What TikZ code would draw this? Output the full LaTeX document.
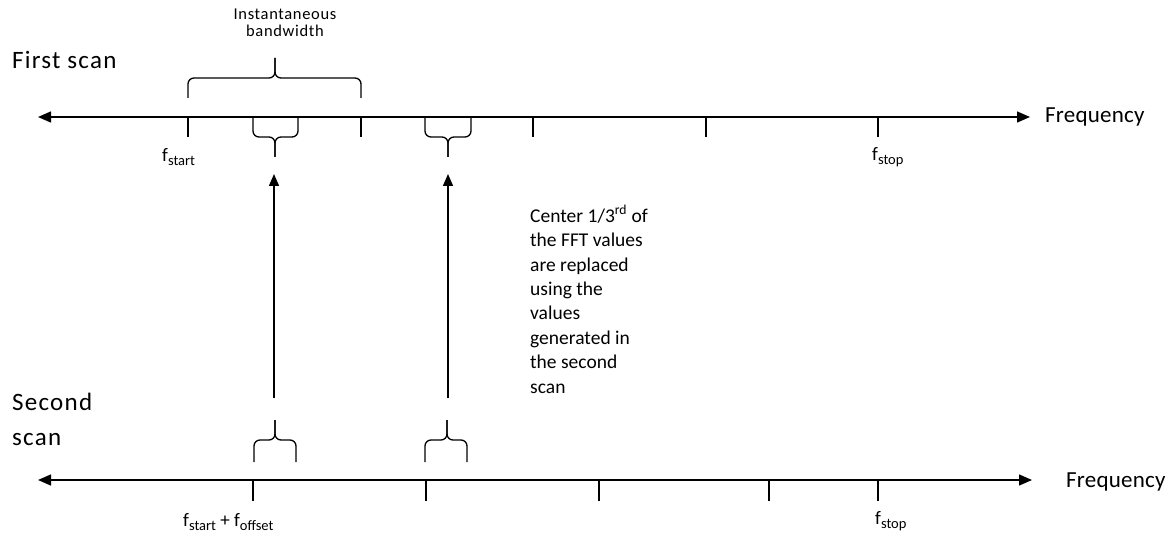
\documentclass[tikz,border=0pt]{standalone}
\usepackage{fontspec}
\setmainfont{Carlito}
\usetikzlibrary{arrows.meta}
\newcommand{\fsub}[2]{#1\raisebox{-0.22em}{\fontsize{14.5}{14.5}\selectfont #2}}
\begin{document}
\begin{tikzpicture}[x=1pt,y=-1pt,
  axis/.style={line width=1.4pt,{Triangle[length=13pt,width=11pt]}-{Triangle[length=13pt,width=11pt]}},
  tick/.style={line width=1.3pt},
  brace/.style={line width=1.3pt,rounded corners=6pt},
  uparrow/.style={line width=1.4pt,-{Triangle[length=12pt,width=10pt]}},
  lbl/.style={inner sep=0pt,font=\fontsize{25}{35}\selectfont\addfontfeatures{LetterSpace=5},align=left},
  freq/.style={inner sep=0pt,anchor=west,font=\fontsize{23}{26}\selectfont\addfontfeatures{LetterSpace=1}},
  flbl/.style={inner sep=0pt,font=\fontsize{19}{22}\selectfont}]
\useasboundingbox (0,0) rectangle (1174,537);
% axes
\coordinate (t0) at (38,117); \coordinate (t1) at (1030,117);
\coordinate (b0) at (38,480); \coordinate (b1) at (1032,480);
\draw[axis] (t0) -- (t1);
\draw[axis] (b0) -- (b1);
% ticks top
\foreach \x in {188,361,533,706,878} \draw[tick] (\x,117) -- (\x,137);
% ticks bottom
\foreach \x in {253,426,599,769,878} \draw[tick] (\x,480) -- (\x,501);
% top brace (instantaneous bandwidth)
\draw[brace] (188,98) |- (275,78) -- (275,58);
\draw[brace] (361,98) |- (275,78) -- (275,58);
% braces under top axis
\foreach \a/\b/\c in {253/298/275,425/471/448}{
  \draw[brace] (\a,117) |- (\c,137) -- (\c,157);
  \draw[brace] (\b,117) |- (\c,137) -- (\c,157);
}
% braces above bottom axis
\foreach \a/\b/\c in {254/296/275,425/467/447}{
  \draw[brace] (\a,462) |- (\c,440) -- (\c,420);
  \draw[brace] (\b,462) |- (\c,440) -- (\c,420);
}
% arrows
\coordinate (a1s) at (274,398); \coordinate (a1e) at (274,174);
\coordinate (a2s) at (448,398); \coordinate (a2e) at (448,174);
\draw[uparrow] (a1s) -- (a1e);
\draw[uparrow] (a2s) -- (a2e);
% labels
\node[lbl,anchor=west] (first) at (12,60) {First scan};
\node[lbl,anchor=north west] (second) at (12,393) {Second\\scan};
\node[freq] (fq1) at (1045,117) {Frequency};
\node[freq] (fq2) at (1066,482) {Frequency};
\node[inner sep=0pt,align=center,font=\fontsize{16.5}{17.5}\selectfont\addfontfeatures{LetterSpace=4}] (ib) at (285,23) {Instantaneous\\bandwidth};
\node[flbl,anchor=west] (fs1) at (162,157) {\fsub{f}{start}};
\node[flbl,anchor=west] (fp1) at (872,157) {\fsub{f}{stop}};
\node[flbl,anchor=west] (fs2) at (183,522) {\fsub{f}{start} + \fsub{f}{offset}};
\node[flbl,anchor=west] (fp2) at (875,521) {\fsub{f}{stop}};
\node[inner sep=0pt,anchor=north west,align=left,font=\fontsize{19.5}{24.4}\selectfont] (ctr) at (530,205)
  {Center 1/3\textsuperscript{rd} of\\the FFT values\\are replaced\\using the\\values\\generated in\\the second\\scan};
\end{tikzpicture}
\end{document}
